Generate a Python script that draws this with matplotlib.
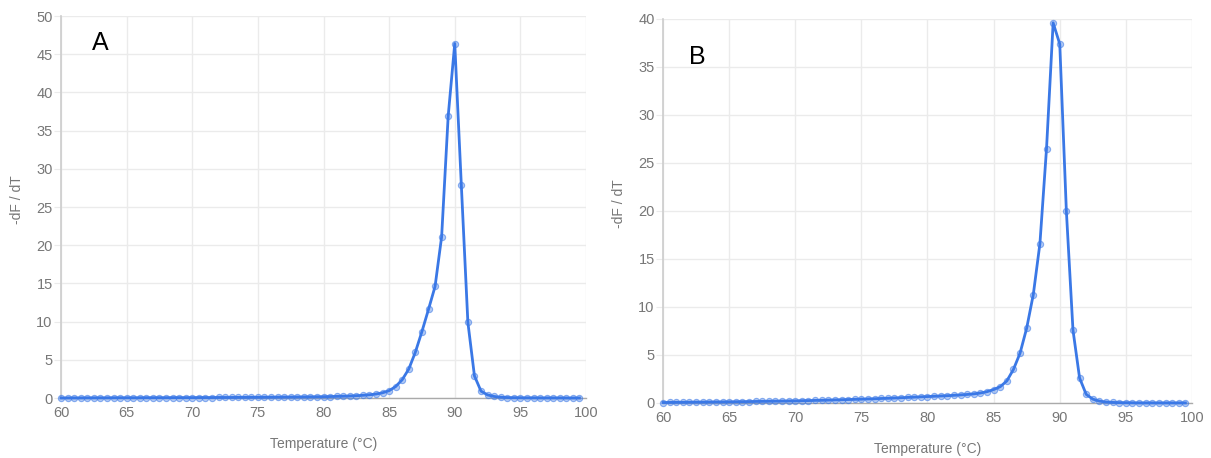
import numpy as np
import matplotlib
matplotlib.use("Agg")
import matplotlib.pyplot as plt

temps = [60 + 0.5 * i for i in range(80)]

dfdt_a = [0.00, 0.01, 0.01, 0.01, 0.02, 0.02, 0.02, 0.02, 0.03, 0.03,
          0.03, 0.03, 0.03, 0.04, 0.04, 0.04, 0.04, 0.05, 0.05, 0.05,
          0.05, 0.06, 0.06, 0.06, 0.07, 0.07, 0.07, 0.08, 0.08, 0.09,
          0.09, 0.10, 0.10, 0.11, 0.12, 0.12, 0.13, 0.14, 0.15, 0.16,
          0.17, 0.19, 0.21, 0.23, 0.26, 0.30, 0.35, 0.42, 0.52, 0.68,
          0.96, 1.5, 2.4, 3.8, 6.0, 8.7, 11.6, 14.6, 21.1, 36.9,
          46.4, 27.9, 9.9, 2.9, 0.9, 0.4, 0.2, 0.1, 0.06, 0.04,
          0.03, 0.02, 0.02, 0.01, 0.01, 0.01, 0.01, 0.0, 0.0, 0.0]

dfdt_b = [0.05, 0.06, 0.07, 0.07, 0.08, 0.09, 0.09, 0.10, 0.11, 0.11,
          0.12, 0.13, 0.14, 0.15, 0.16, 0.17, 0.18, 0.19, 0.20, 0.21,
          0.22, 0.24, 0.25, 0.27, 0.28, 0.30, 0.32, 0.34, 0.36, 0.38,
          0.40, 0.42, 0.44, 0.47, 0.49, 0.52, 0.55, 0.58, 0.61, 0.64,
          0.67, 0.70, 0.73, 0.76, 0.80, 0.84, 0.89, 0.95, 1.04, 1.18,
          1.4, 1.7, 2.3, 3.5, 5.2, 7.8, 11.3, 16.6, 26.5, 39.6,
          37.4, 20.0, 7.6, 2.6, 0.9, 0.4, 0.2, 0.1, 0.06, 0.04,
          0.03, 0.02, 0.01, 0.01, 0.01, 0.01, 0.01, 0.01, 0.01, 0.01]

x_ticks = [60, 65, 70, 75, 80, 85, 90, 95, 100]
y_ticks_a = [0, 5, 10, 15, 20, 25, 30, 35, 40, 45, 50]
y_ticks_b = [0, 5, 10, 15, 20, 25, 30, 35, 40]

plt.rcParams['font.family'] = ['Liberation Sans', 'DejaVu Sans']

W, H = 1211, 458
fig = plt.figure(figsize=(W / 100, H / 100), dpi=100)

LINE = '#3a78e6'
GRID = '#ebebeb'
TXT = '#777777'


def px_axes(l, r, b, t):
    return fig.add_axes([l / W, 1 - b / H, (r - l) / W, (b - t) / H])


def style(ax, data, y_ticks, ylim, letter, letter_xy):
    ax.plot(temps, data, color=LINE, lw=2.0, marker='o', ms=4.5,
            mfc=(0.23, 0.47, 0.9, 0.4), mec=(0.23, 0.47, 0.9, 0.55), mew=0.8,
            zorder=3, clip_on=False)
    ax.set_xlim(60, 100)
    ax.set_ylim(*ylim)
    ax.set_xticks(x_ticks)
    ax.set_yticks(y_ticks)
    ax.grid(True, color=GRID, lw=1)
    ax.set_axisbelow(True)
    for s in ['top', 'right']:
        ax.spines[s].set_visible(False)
    ax.spines['left'].set_color('#cccccc')
    ax.spines['bottom'].set_color('#aaaaaa')
    ax.spines['left'].set_linewidth(1.2)
    ax.spines['bottom'].set_linewidth(1.0)
    ax.tick_params(axis='y', length=5, color=GRID, labelcolor=TXT,
                   labelsize=10.5, pad=1)
    ax.tick_params(axis='x', length=0, labelcolor=TXT, labelsize=10.5, pad=6)
    ax.set_xlabel('Temperature (°C)', color=TXT, fontsize=10, labelpad=12)
    ax.set_ylabel('-dF / dT', color=TXT, fontsize=10)
    ax.yaxis.set_label_coords(-0.07, 0.52)
    ax.text(letter_xy[0], letter_xy[1], letter, transform=fig.transFigure,
            fontsize=18, color='black', ha='center', va='center')


axA = px_axes(61, 586, 398, 16)
style(axA, dfdt_a, y_ticks_a, (0, 50), 'A', (100 / W, 1 - 43 / H))

axB = px_axes(663, 1192, 403, 19)
style(axB, dfdt_b, y_ticks_b, (0, 40), 'B', (697 / W, 1 - 57 / H))

fig.savefig('out.png', dpi=100, facecolor='white')
